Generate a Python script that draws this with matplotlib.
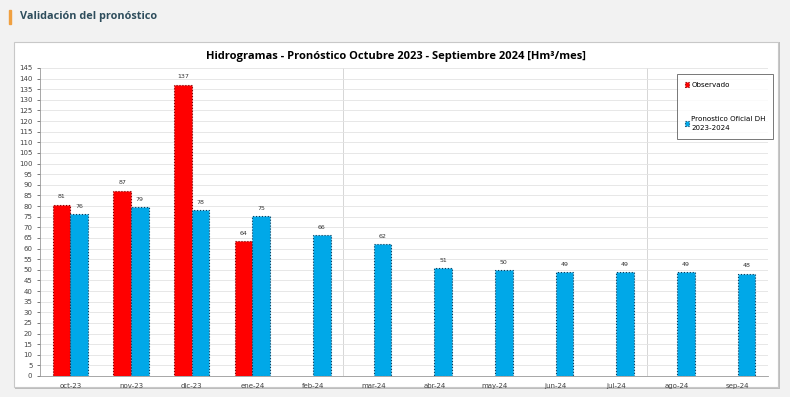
import matplotlib.pyplot as plt
import numpy as np
from matplotlib.patches import Rectangle

# Data
months = ['oct-23', 'nov-23', 'dic-23', 'ene-24', 'feb-24', 'mar-24',
          'abr-24', 'may-24', 'jun-24', 'jul-24', 'ago-24', 'sep-24']
observado = [80.7, 87.2, 137.2, 63.6]
pronostico = [76.3, 79.4, 78.0, 75.1, 66.4, 62.1, 50.8, 49.8, 48.8, 48.8, 48.8, 48.2]

fig = plt.figure(figsize=(7.9, 3.97), dpi=100)
fig.patch.set_facecolor('#f2f2f2')

# page heading
fig.text(20 / 790, 1 - 17 / 397, 'Validación del pronóstico', fontsize=7.8,
         fontweight='bold', color='#2e4d5c', va='center', ha='left', family='Open Sans')
fig.add_artist(Rectangle((9 / 790, 1 - 24 / 397), 2 / 790, 14 / 397,
                         transform=fig.transFigure, color='#f0a040'))

# white chart panel
fig.add_artist(Rectangle((15 / 790, 1 - 389 / 397), 765 / 790, 347 / 397,
                         transform=fig.transFigure, facecolor='#bdbdbd',
                         edgecolor='none', zorder=0))
fig.add_artist(Rectangle((14 / 790, 1 - 387 / 397), 764 / 790, 345 / 397,
                         transform=fig.transFigure, facecolor='white',
                         edgecolor='#c8c8c8', lw=0.8, zorder=0))

fig.text(396 / 790, 1 - 56 / 397,
         'Hidrogramas - Pronóstico Octubre 2023 - Septiembre 2024 [Hm³/mes]',
         fontsize=8, fontweight='bold', ha='center', va='center', family='Open Sans')

ax = fig.add_axes([40 / 790, 1 - 376 / 397, 728 / 790, 308 / 397])
ax.set_facecolor('none')

x = np.arange(len(months))
w = 0.29
b1 = ax.bar(x[:len(observado)] - w / 2, observado, w, color='#ff0000',
            edgecolor='#7a0000', linestyle=':', lw=0.8, label='Observado', zorder=3)
b2 = ax.bar(x + w / 2, pronostico, w, color='#00a8e8',
            edgecolor='#0a3a5a', linestyle=':', lw=0.8,
            label='Pronostico Oficial DH\n2023-2024', zorder=3)

for rect, v in zip(b1, observado):
    ax.text(rect.get_x() + rect.get_width() / 2, v + 2.5, '%.0f' % v,
            ha='center', va='bottom', fontsize=4.5, color='#333333')
for rect, v in zip(b2, pronostico):
    ax.text(rect.get_x() + rect.get_width() / 2, v + 2.5, '%.0f' % v,
            ha='center', va='bottom', fontsize=4.5, color='#333333')

ax.set_xlim(-0.5, len(months) - 0.5)
ax.set_ylim(0, 145)
ax.set_yticks(np.arange(0, 146, 5))
ax.set_xticks(x)
ax.set_xticklabels(months)
ax.tick_params(axis='both', labelsize=5, colors='#444444', length=2, width=0.5)
ax.tick_params(axis='x', length=0, pad=5)
ax.grid(axis='y', color='#e3e3e3', lw=0.6, zorder=0)
for xv in (4.5, 9.5):
    ax.axvline(xv, color='#d0d0d0', lw=0.6, zorder=1)
for s in ('top', 'right'):
    ax.spines[s].set_visible(False)
ax.spines['left'].set_color('#999999')
ax.spines['bottom'].set_color('#999999')
ax.spines['left'].set_linewidth(0.6)
ax.spines['bottom'].set_linewidth(0.6)

leg = ax.legend(loc='upper left', bbox_to_anchor=(677 / 790, 1 - 74 / 397),
                bbox_transform=fig.transFigure, fontsize=5.1, frameon=True,
                fancybox=False, edgecolor='#555555', handlelength=0.6,
                handleheight=0.6, handletextpad=0.3, labelspacing=4.0,
                borderpad=1.1, borderaxespad=0)
leg.get_frame().set_linewidth(0.7)
leg.get_texts()[1].set_linespacing(1.6)

fig.savefig('out.png', dpi=100, facecolor=fig.get_facecolor())
